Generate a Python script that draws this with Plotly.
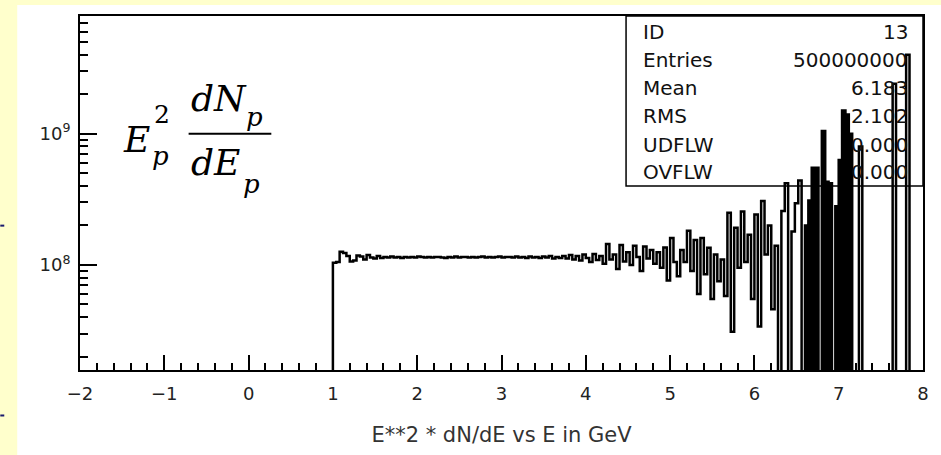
import plotly.graph_objects as go

# ---------------- data ----------------
bin_start = 1.0
bin_width = 0.04
# E^2 dN/dE per bin (units of 1e8), bins from 1.00 to 8.00 GeV
hist_values_e8 = [
    1.04, 1.05, 1.26, 1.23, 1.17, 1.06, 1.08, 1.18, 1.16, 1.10,
    1.19, 1.14, 1.12, 1.17, 1.13, 1.15, 1.14, 1.16, 1.14, 1.15,
    1.13, 1.15, 1.14, 1.15, 1.14, 1.16, 1.15, 1.14, 1.15, 1.14,
    1.15, 1.15, 1.14, 1.13, 1.15, 1.14, 1.16, 1.14, 1.15, 1.15,
    1.14, 1.15, 1.14, 1.15, 1.16, 1.14, 1.15, 1.14, 1.15, 1.16,
    1.14, 1.15, 1.15, 1.14, 1.16, 1.14, 1.15, 1.13, 1.16, 1.14,
    1.15, 1.13, 1.16, 1.14, 1.17, 1.12, 1.15, 1.13, 1.17, 1.12,
    1.19, 1.10, 1.17, 1.08, 1.20, 1.13, 1.05, 1.21, 1.09, 1.17,
    1.02, 1.44, 1.10, 1.20, 0.93, 1.42, 1.06, 1.25, 1.00, 1.40,
    1.15, 0.90, 1.38, 1.12, 1.30, 1.02, 1.25, 0.95, 1.36, 0.76,
    1.60, 1.05, 0.82, 1.30, 1.05, 1.82, 0.90, 1.55, 0.60, 1.60,
    0.85, 1.35, 0.55, 1.20, 0.75, 1.10, 0.58, 2.50, 0.31, 1.92,
    0.95, 2.55, 1.05, 1.70, 0.55, 2.42, 0.34, 3.07, 1.20, 2.00,
    0.46, 1.40, 0.0, 2.57, 4.20, 0.0, 1.80, 2.95, 4.40, 0.0,
    2.00, 3.10, 5.50, 5.50, 0.0, 10.5, 4.30, 4.20, 0.0, 2.80,
    6.30, 15.0, 14.0, 10.0, 0.0, 0.0, 8.0, 0.0, 0.0, 0.0,
    0.0, 0.0, 0.0, 0.0, 0.0, 0.0, 24.0, 0.0, 0.0, 0.0,
    40.0, 0.0, 0.0, 0.0, 0.0,
]
x_tick_vals = [-2, -1, 0, 1, 2, 3, 4, 5, 6, 7, 8]
y_tick_vals = [1e8, 1e9]
y_tick_text = ["10<sup>8</sup>", "10<sup>9</sup>"]
stats_labels = ["ID", "Entries", "Mean", "RMS", "UDFLW", "OVFLW"]
stats_values = ["13", "500000000", "6.183", "2.102", "0.000", "0.000"]
x_title = "E**2 * dN/dE vs E in GeV"

# ---------------- geometry helpers ----------------
W, H = 941, 455
ML, MR, MT, MB = 80, 15, 16, 81
PW = W - ML - MR
PH = H - MT - MB
def px2paper_x(px):
    return (px - ML) / PW
def py2paper_y(py):
    return (H - MB - py) / PH

YELLOW = "#FFFFCC"
FLOOR = 1e6          # stand-in for empty bins on the log axis (below range)
DENSE_FROM = 6.6     # region drawn solid (dense spikes)
DENSE_TO = 7.2

n = len(hist_values_e8)
edges = [bin_start + i * bin_width for i in range(n + 1)]
vals = [v * 1e8 if v > 0 else FLOOR for v in hist_values_e8]

# step outline
xs = [edges[0]] + edges[:n] + [edges[n]]
ys = [FLOOR] + vals + [vals[-1]]

fig = go.Figure()

dense_idx = [i for i in range(n)
             if DENSE_FROM - 1e-9 <= edges[i] < DENSE_TO and hist_values_e8[i] > 0]
fig.add_trace(go.Bar(x=[edges[i] + bin_width / 2 for i in dense_idx],
                     y=[vals[i] for i in dense_idx], width=bin_width,
                     marker=dict(color="black", line=dict(width=0)),
                     showlegend=False, hoverinfo="skip"))

fig.add_trace(go.Scatter(x=xs, y=ys, mode="lines", line=dict(shape="hv", color="black", width=2.5),
                         showlegend=False, hoverinfo="skip"))

minor_y = [m * 10 ** e for e in (7, 8, 9) for m in range(2, 10) if 1.5e7 < m * 10 ** e < 7.9e9]

fig.update_layout(
    width=W, height=H,
    margin=dict(l=ML, r=MR, t=MT, b=MB),
    paper_bgcolor=YELLOW,
    plot_bgcolor="white",
    bargap=0,
    xaxis=dict(
        range=[-2, 8], tickvals=x_tick_vals, ticks="inside", ticklen=15, tickwidth=2, tickcolor="black",
        showline=True, linecolor="black", linewidth=2, mirror=True, showgrid=False, zeroline=False,
        tickfont=dict(family="DejaVu Sans", size=18, color="#222"),
        minor=dict(dtick=0.2, ticks="inside", ticklen=7, tickwidth=2, tickcolor="black", showgrid=False),
        title=dict(text=x_title, font=dict(family="DejaVu Sans", size=21, color="#333"), standoff=25),
        ticklabelstandoff=6,
    ),
    yaxis=dict(
        type="log", range=[7.199, 9.897], tickvals=y_tick_vals, ticktext=y_tick_text,
        ticks="inside", ticklen=17, tickwidth=2, tickcolor="black",
        showline=True, linecolor="black", linewidth=2, mirror=True, showgrid=False, zeroline=False,
        tickfont=dict(family="DejaVu Sans", size=18, color="#222"),
        minor=dict(tickvals=minor_y, ticks="inside", ticklen=8, tickwidth=2, tickcolor="black", showgrid=False),
        ticklabelstandoff=4,
    ),
)

shapes = []
# white panel over yellow page
shapes.append(dict(type="rect", xref="paper", yref="paper", layer="below",
                   x0=px2paper_x(17), x1=px2paper_x(W + 20), y0=py2paper_y(H + 20), y1=py2paper_y(5),
                   fillcolor="white", line=dict(width=0)))
# small navy marks at the left edge
for py in (228, 420):
    shapes.append(dict(type="line", xref="paper", yref="paper",
                       x0=px2paper_x(0), x1=px2paper_x(4), y0=py2paper_y(py), y1=py2paper_y(py),
                       line=dict(color="#1a1a6e", width=2)))
# stats box
shapes.append(dict(type="rect", xref="paper", yref="paper",
                   x0=px2paper_x(628), x1=1, y0=py2paper_y(188), y1=1,
                   line=dict(color="black", width=1.5), fillcolor="rgba(0,0,0,0)"))
# fraction bar
shapes.append(dict(type="line", xref="paper", yref="paper",
                   x0=px2paper_x(189), x1=px2paper_x(272), y0=py2paper_y(135), y1=py2paper_y(135),
                   line=dict(color="black", width=2)))
fig.update_layout(shapes=shapes)

ann = []
row_y = [32, 60, 89, 117, 146, 174]
for lab, val, ry in zip(stats_labels, stats_values, row_y):
    ann.append(dict(xref="paper", yref="paper", x=px2paper_x(643), y=py2paper_y(ry), text=lab,
                    xanchor="left", yanchor="middle", showarrow=False,
                    font=dict(family="DejaVu Sans", size=20, color="#111")))
    ann.append(dict(xref="paper", yref="paper", x=px2paper_x(913), y=py2paper_y(ry), text=val,
                    xanchor="right", yanchor="middle", showarrow=False,
                    font=dict(family="DejaVu Sans", size=20, color="#111")))

mf = "DejaVu Serif"
def math(text, px, py, size, anchor="left"):
    ann.append(dict(xref="paper", yref="paper", x=px2paper_x(px), y=py2paper_y(py), text=text,
                    xanchor=anchor, yanchor="middle", showarrow=False,
                    font=dict(family=mf, size=size, color="black")))

math("<i>E</i>", 121, 141, 36)
math("2", 152, 116, 25)
math("<i>p</i>", 150, 158, 26)
math("<i>dN</i>", 189, 99, 36)
math("<i>p</i>", 245, 118, 26)
math("<i>dE</i>", 189, 164, 36)
math("<i>p</i>", 242, 186, 26)

fig.update_layout(annotations=ann)

fig.write_html("out.html")
